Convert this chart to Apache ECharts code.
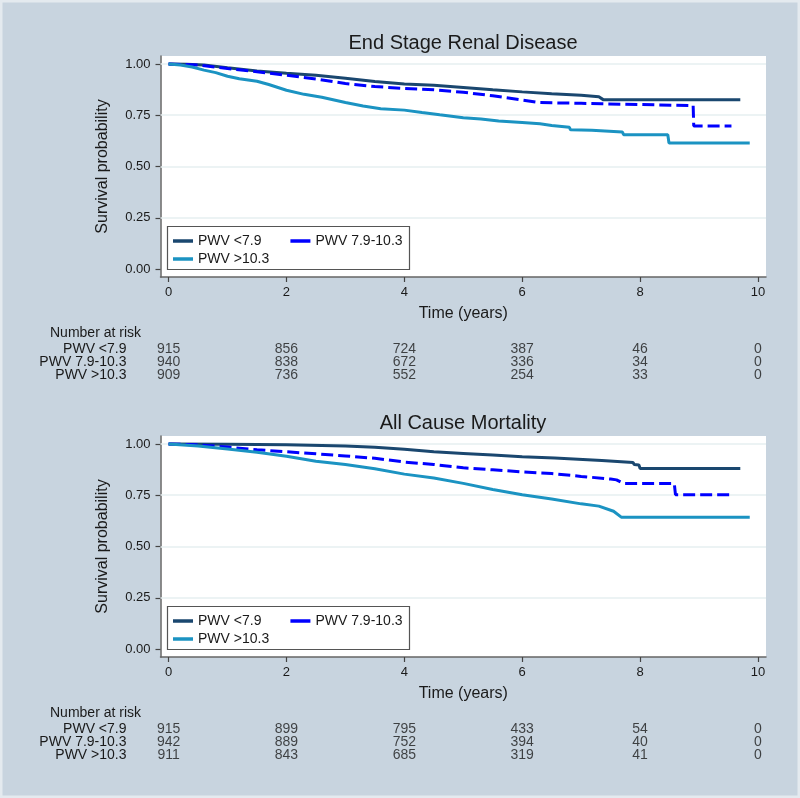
<!DOCTYPE html>
<html>
<head>
<meta charset="utf-8">
<script src="https://cdn.jsdelivr.net/npm/echarts@6/dist/echarts.min.js"></script>
<style>
html,body{margin:0;padding:0;background:#c8d4df;}
#c{width:800px;height:798px;}
</style>
</head>
<body>
<div id="c"></div>
<script>
// ---------- data ----------
const groupNames = ['PWV <7.9', 'PWV 7.9-10.3', 'PWV >10.3'];
const xTicks = [0, 2, 4, 6, 8, 10];
const yTicks = [0, 0.25, 0.5, 0.75, 1];
const riskTimes = [0, 2, 4, 6, 8, 10];

// End Stage Renal Disease: [time (years), survival probability]
const esrdLow = [[0,1],[0.3,0.999],[0.6,0.995],[1.0,0.982],[1.5,0.966],[2.0,0.955],[2.5,0.945],[3.0,0.93],[3.5,0.915],[4.0,0.903],[4.5,0.896],[5.0,0.885],[5.5,0.874],[6.0,0.864],[6.5,0.855],[7.0,0.848],[7.3,0.84],[7.38,0.825],[9.7,0.825]];
const esrdMid = [[0,1],[0.5,0.995],[1.0,0.978],[1.5,0.962],[2.0,0.945],[2.5,0.927],[3.0,0.905],[3.5,0.89],[4.0,0.881],[4.5,0.874],[5.0,0.862],[5.5,0.845],[6.0,0.824],[6.3,0.812],[7.0,0.808],[7.35,0.806],[7.38,0.797],[8.9,0.797],[8.91,0.698],[9.55,0.698]];
const esrdHigh = [[0,1],[0.2,0.995],[0.4,0.985],[0.6,0.97],[0.8,0.958],[1.0,0.94],[1.2,0.928],[1.5,0.916],[1.7,0.9],[2.0,0.872],[2.3,0.852],[2.6,0.838],[3.0,0.812],[3.3,0.795],[3.6,0.782],[4.0,0.775],[4.3,0.763],[4.6,0.752],[5.0,0.738],[5.3,0.732],[5.6,0.722],[6.0,0.715],[6.3,0.708],[6.5,0.7],[6.8,0.691],[6.82,0.679],[7.18,0.677],[7.2,0.67],[7.7,0.668],[7.72,0.655],[8.47,0.655],[8.49,0.615],[9.86,0.615]];

// All Cause Mortality
const acmLow = [[0,1],[1.0,0.999],[2.0,0.996],[3.0,0.99],[3.5,0.984],[4.0,0.974],[4.5,0.962],[5.0,0.954],[5.5,0.946],[6.0,0.938],[6.55,0.932],[6.58,0.923],[7.35,0.92],[7.38,0.912],[7.88,0.91],[7.9,0.9],[7.98,0.897],[8.0,0.881],[9.7,0.881]];
const acmMid = [[0,1],[0.5,0.996],[1.0,0.985],[1.5,0.972],[2.0,0.962],[2.5,0.952],[3.0,0.942],[3.5,0.93],[4.0,0.912],[4.5,0.9],[5.0,0.884],[5.5,0.874],[6.0,0.864],[6.5,0.856],[7.0,0.842],[7.5,0.829],[7.6,0.825],[7.72,0.807],[8.58,0.807],[8.6,0.753],[9.58,0.753]];
const acmHigh = [[0,1],[0.5,0.99],[1.0,0.976],[1.5,0.96],[2.0,0.94],[2.5,0.916],[3.0,0.9],[3.5,0.879],[4.0,0.853],[4.5,0.834],[5.0,0.808],[5.5,0.778],[6.0,0.752],[6.5,0.732],[7.0,0.708],[7.3,0.697],[7.55,0.672],[7.68,0.643],[9.86,0.643]];

// Number at risk
const esrdRiskLow = [915, 856, 724, 387, 46, 0];
const esrdRiskMid = [940, 838, 672, 336, 34, 0];
const esrdRiskHigh = [909, 736, 552, 254, 33, 0];
const acmRiskLow = [915, 899, 795, 433, 54, 0];
const acmRiskMid = [942, 889, 752, 394, 40, 0];
const acmRiskHigh = [911, 843, 685, 319, 41, 0];

const panelTitles = ['End Stage Renal Disease', 'All Cause Mortality'];

// ---------- styling ----------
const FONT = "'Liberation Sans', Arial, sans-serif";
const TXT = '#1a1a1a';
const colors = ['#1a476f', '#0000ff', '#1b93c2'];
const lineTypes = ['solid', [12, 5], 'solid'];

const panels = [
  { title: panelTitles[0], curves: [esrdLow, esrdMid, esrdHigh], risk: [esrdRiskLow, esrdRiskMid, esrdRiskHigh] },
  { title: panelTitles[1], curves: [acmLow, acmMid, acmHigh], risk: [acmRiskLow, acmRiskMid, acmRiskHigh] }
];

const grid = [], xAxis = [], yAxis = [], series = [], legend = [], graphic = [];

panels.forEach((p, i) => {
  const off = i * 380;
  const gPlot = i * 2, gTab = i * 2 + 1;
  grid.push({ left: 160.5, width: 605.5, top: 56 + off, height: 221, show: true, backgroundColor: '#ffffff', borderWidth: 0 });
  grid.push({ left: 160.5, width: 605.5, top: 342.5 + off, height: 39 });

  xAxis.push({
    gridIndex: gPlot, type: 'value', min: -0.137, max: 10.136,
    name: 'Time (years)', nameLocation: 'middle', nameGap: 29,
    nameTextStyle: { fontFamily: FONT, fontSize: 16, color: TXT },
    axisLine: { show: true, onZero: false, lineStyle: { color: '#666', width: 1.5 } },
    axisTick: { show: true, customValues: xTicks, length: 5, lineStyle: { color: '#444', width: 1.2 } },
    axisLabel: { customValues: xTicks, fontFamily: FONT, fontSize: 13, color: TXT, margin: 9 },
    splitLine: { show: false }
  });
  xAxis.push({ gridIndex: gTab, type: 'value', min: -0.137, max: 10.136, show: false });

  yAxis.push({
    gridIndex: gPlot, type: 'value', min: -0.039, max: 1.039,
    name: 'Survival probability', nameLocation: 'middle', nameGap: 50,
    nameTextStyle: { fontFamily: FONT, fontSize: 16, color: TXT },
    axisLine: { show: true, onZero: false, lineStyle: { color: '#666', width: 1.5 } },
    axisTick: { show: true, customValues: yTicks, length: 5, lineStyle: { color: '#444', width: 1.2 } },
    axisLabel: { customValues: yTicks, fontFamily: FONT, fontSize: 13, color: TXT, margin: 10,
      formatter: v => v.toFixed(2) },
    splitLine: { show: false }
  });
  yAxis.push({
    gridIndex: gTab, type: 'category', inverse: true, data: groupNames,
    axisLine: { show: false }, axisTick: { show: false }, splitLine: { show: false },
    axisLabel: { interval: 0, hideOverlap: false, fontFamily: FONT, fontSize: 14, color: TXT, margin: 34 }
  });

  // gridlines
  series.push({
    name: 'grid' + i, type: 'line', xAxisIndex: gPlot, yAxisIndex: gPlot, data: [], z: 1,
    markLine: { silent: true, z: 1, symbol: ['none', 'none'], label: { show: false },
      lineStyle: { color: '#e6eff1', width: 1.5, type: 'solid' },
      data: yTicks.filter(v => v > 0).map(v => ({ yAxis: v })) }
  });

  p.curves.forEach((d, k) => {
    series.push({
      name: groupNames[k], type: 'line', xAxisIndex: gPlot, yAxisIndex: gPlot,
      data: d, showSymbol: false, symbol: 'none', z: 3 + k,
      itemStyle: { color: colors[k] },
      lineStyle: { color: colors[k], width: 3, type: lineTypes[k] },
      silent: true
    });
  });

  p.risk.forEach((counts, k) => {
    series.push({
      name: 'risk' + i + '_' + k, type: 'scatter', xAxisIndex: gTab, yAxisIndex: gTab,
      data: riskTimes.map((t, j) => [t, groupNames[k], counts[j]]),
      symbolSize: 1, itemStyle: { color: 'rgba(0,0,0,0)' }, silent: true,
      label: { show: true, position: 'inside', formatter: q => String(q.value[2]),
        fontFamily: FONT, fontSize: 14, color: TXT }
    });
  });

  // legend box + two legend rows
  graphic.push({ type: 'rect', z: 3, silent: true, shape: { x: 167.5, y: 226.5 + off, width: 242, height: 43 },
    style: { fill: '#ffffff', stroke: '#555', lineWidth: 1.2 } });
  legend.push({
    left: 173, top: 234 + off, orient: 'horizontal', padding: 0, z: 10,
    itemWidth: 20, itemHeight: 3.5, icon: 'rect', itemGap: 29,
    selectedMode: false, data: [groupNames[0], groupNames[1]],
    textStyle: { fontFamily: FONT, fontSize: 14, color: TXT }
  });
  legend.push({
    left: 173, top: 252 + off, orient: 'horizontal', padding: 0, z: 10,
    itemWidth: 20, itemHeight: 3.5, icon: 'rect', itemGap: 29,
    selectedMode: false, data: [groupNames[2]],
    textStyle: { fontFamily: FONT, fontSize: 14, color: TXT }
  });

  graphic.push({ type: 'text', x: 463, y: 43 + off, silent: true,
    style: { text: p.title, fontFamily: FONT, fontSize: 20, fill: TXT, align: 'center', verticalAlign: 'middle' } });
  graphic.push({ type: 'text', x: 50, y: 333 + off, silent: true,
    style: { text: 'Number at risk', fontFamily: FONT, fontSize: 14, fill: TXT, align: 'left', verticalAlign: 'middle' } });
});

graphic.push({ type: 'rect', shape: { x: 0, y: 0, width: 800, height: 798 }, silent: true, z: 100,
  style: { fill: 'none', stroke: '#e4eaef', lineWidth: 5 } });

const chart = echarts.init(document.getElementById('c'), null, { renderer: 'canvas' });
chart.setOption({
  backgroundColor: '#c8d4df',
  animation: false,
  textStyle: { fontFamily: FONT },
  grid, xAxis, yAxis, series, legend, graphic
});
</script>
</body>
</html>
